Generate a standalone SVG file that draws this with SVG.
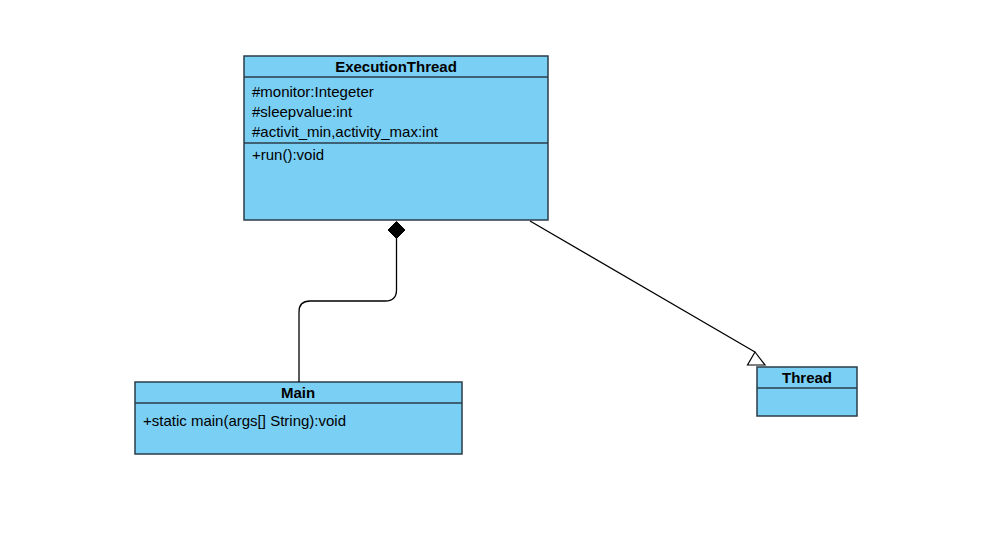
<svg xmlns="http://www.w3.org/2000/svg" width="1001" height="536" viewBox="0 0 1001 536">
<style>
.box{fill:#7acff5;stroke:#2b3c48;stroke-width:1.5}
.div{stroke:#2b3c48;stroke-width:1.5}
.t{font-family:"Liberation Sans",Arial,sans-serif;font-size:15px;fill:#000}
.b{font-weight:bold;text-anchor:middle}
.c{fill:none;stroke:#000;stroke-width:1.3}
</style>
<rect width="1001" height="536" fill="#fff"/>
<g id="ExecutionThread">
<rect class="box" x="244" y="56" width="304" height="164"/>
<line class="div" x1="244" y1="77" x2="548" y2="77"/>
<line class="div" x1="244" y1="143" x2="548" y2="143"/>
<text class="t b" x="396" y="71.5">ExecutionThread</text>
<text class="t" x="252" y="96.5">#monitor:Integeter</text>
<text class="t" x="252" y="116.5">#sleepvalue:int</text>
<text class="t" x="252" y="136.5">#activit_min,activity_max:int</text>
<text class="t" x="252" y="159.5">+run():void</text>
</g>
<g id="Main">
<rect class="box" x="135" y="382" width="327" height="72"/>
<line class="div" x1="135" y1="403" x2="462" y2="403"/>
<text class="t b" x="298" y="397.5">Main</text>
<text class="t" x="143" y="425.5">+static main(args[] String):void</text>
</g>
<g id="Thread">
<rect class="box" x="757" y="367" width="100" height="49"/>
<line class="div" x1="757" y1="388" x2="857" y2="388"/>
<text class="t b" x="807" y="382.5">Thread</text>
</g>
<g id="connectors">
<path class="c" d="M396.5,237 V290 Q396.5,301 385,301 H310 Q299,301 299,312 V382"/>
<polygon points="396.5,221.5 405,230 396.5,238.5 388,230" fill="#000" stroke="#000"/>
<line class="c" x1="530" y1="221" x2="755" y2="352"/>
<polygon points="755,352 747.5,365 765,365" fill="#fff" stroke="#000" stroke-width="1.2"/>
</g>
</svg>
